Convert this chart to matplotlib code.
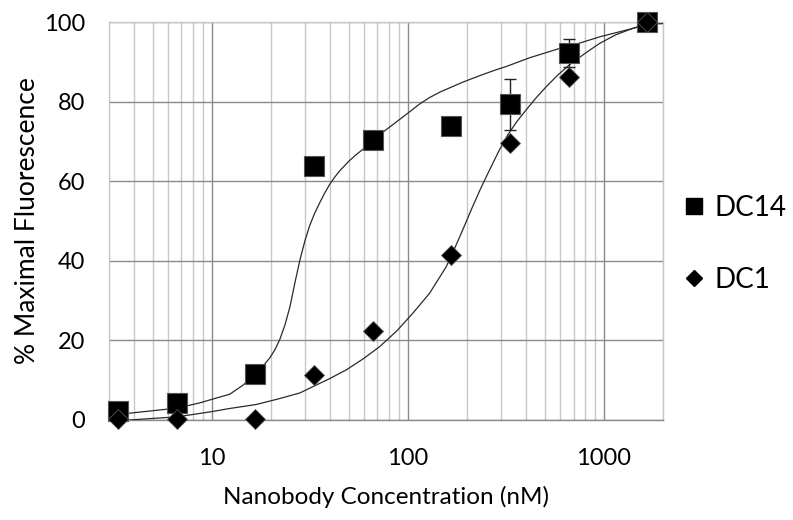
import matplotlib
matplotlib.use("Agg")
import matplotlib.pyplot as plt
from matplotlib.lines import Line2D
from matplotlib.ticker import FixedLocator, NullFormatter

plt.rcParams['font.family'] = ['Lato', 'DejaVu Sans']

# ---- data ----
conc = [3.33, 6.67, 16.7, 33.3, 66.7, 167, 333, 667, 1667]
dc14 = [2.3, 4.2, 11.6, 63.9, 70.4, 73.9, 79.3, 92.2, 100]
dc14_err = [0, 0, 0, 0, 0, 0, 6.5, 3.6, 0]
dc1 = [0.2, 0.3, 0.3, 11.3, 22.4, 41.5, 69.5, 86.3, 100]

# fitted curves
fit14_x = [3.0, 3.8, 6.7, 8.7, 12.4, 14.5, 16.7, 18.2, 19.8, 21.0, 22.3, 23.7, 25.1,
           26.6, 28.2, 29.9, 31.6, 33.5, 35.6, 37.7, 40, 42.4, 45, 50, 55, 59, 63,
           67, 76, 87, 102, 115, 129, 146, 191, 235, 282, 317, 417, 589, 667,
           955, 1514, 1667, 2000]
fit14_y = [1.5, 1.7, 3.0, 4.3, 6.5, 8.8, 11.6, 13.4, 15.6, 17.6, 20.3, 24.0, 28.5,
           34.5, 40.2, 45.0, 48.8, 51.9, 54.6, 57.0, 59.2, 61.0, 62.6, 65.0, 66.8, 68.0, 69.3,
           70.4, 72.6, 74.8, 77.4, 79.4, 81.0, 82.4, 84.9, 86.6, 88.0, 88.8,
           91.0, 93.3, 93.9, 96.3, 98.8, 99.4, 99.6]
fit1_x = [3.0, 3.8, 6.7, 10, 12.4, 16.9, 22.3, 28.2, 32.9, 40, 48.6, 59, 71.8, 88, 106,
          129, 157, 167, 190, 214, 237, 261, 290, 323, 360, 401, 450, 507, 580, 665,
          800, 949, 1150, 1403, 1667, 2000]
fit1_y = [0.0, 0.0, 0.8, 2.1, 2.9, 3.9, 5.4, 6.8, 8.4, 10.4, 12.6, 15.3, 18.4, 22.4, 26.8,
          31.8, 38.5, 41.3, 47.6, 53.6, 58.5, 62.8, 67.4, 71.6, 75.0, 77.9, 80.9, 83.7, 86.6, 89.2,
          92.1, 94.6, 96.8, 98.4, 99.7, 100.3]

xticks = [10, 100, 1000]
xtick_labels = ["10", "100", "1000"]
yticks = [0, 20, 40, 60, 80, 100]

fig = plt.figure(figsize=(7.93, 5.20), dpi=100)
ax = fig.add_axes([109/793, 1-420/520, (663-109)/793, (420-22)/520])

ax.set_xscale('log')
ax.set_xlim(3.0, 2000)
ax.set_ylim(0, 100)

# grid
ax.xaxis.set_major_locator(FixedLocator(xticks))
minors = [m * 10**e for e in range(0, 4) for m in range(2, 10)]
ax.xaxis.set_minor_locator(FixedLocator(minors))
ax.xaxis.set_minor_formatter(NullFormatter())
ax.set_xticks(xticks)
ax.set_xticklabels(xtick_labels)
ax.set_yticks(yticks)
ax.grid(True, which='major', color='#8a8a8a', linewidth=1.0)
ax.grid(True, which='minor', axis='x', color='#c8c8c8', linewidth=1.0)
ax.set_axisbelow(True)
for s in ['top', 'right', 'left']:
    ax.spines[s].set_color('#c8c8c8')
    ax.spines[s].set_linewidth(1.0)
ax.spines['bottom'].set_color('#8a8a8a')
ax.spines['bottom'].set_linewidth(1.0)
ax.tick_params(axis='both', which='both', length=0, labelsize=17)
ax.tick_params(axis='x', pad=20)
ax.tick_params(axis='y', pad=17)

# fit lines
ax.plot(fit14_x, fit14_y, color='#2a2a2a', linewidth=0.9, zorder=3)
ax.plot(fit1_x, fit1_y, color='#2a2a2a', linewidth=0.9, zorder=3)

# error bars
ax.errorbar(conc, dc14, yerr=dc14_err, fmt='none', ecolor='#222222',
            elinewidth=1.0, capsize=4, capthick=1.0, zorder=4)

# markers
ax.plot(conc, dc14, linestyle='none', marker='s', markersize=14,
        markerfacecolor='black', markeredgecolor='#555555', markeredgewidth=0.8,
        zorder=5, clip_on=False)
ax.plot(conc, dc1, linestyle='none', marker='D', markersize=10.5,
        markerfacecolor='black', markeredgecolor='#555555', markeredgewidth=0.6,
        zorder=6, clip_on=False)

ax.set_xlabel("Nanobody Concentration (nM)", fontsize=17.5, labelpad=12)
ax.set_ylabel("% Maximal Fluorescence", fontsize=19, labelpad=3)

handles = [Line2D([], [], linestyle='none', marker='s', markersize=11,
                  markerfacecolor='black', markeredgecolor='black'),
           Line2D([], [], linestyle='none', marker='D', markersize=8,
                  markerfacecolor='black', markeredgecolor='black')]
fig.legend(handles, ["DC14", "DC1"], loc='center left',
           bbox_to_anchor=(683/793, 1-244/520), frameon=False, fontsize=20,
           handlelength=0.8, handletextpad=0.35, labelspacing=1.65,
           borderaxespad=0, borderpad=0)

fig.savefig("out.png", dpi=100)
